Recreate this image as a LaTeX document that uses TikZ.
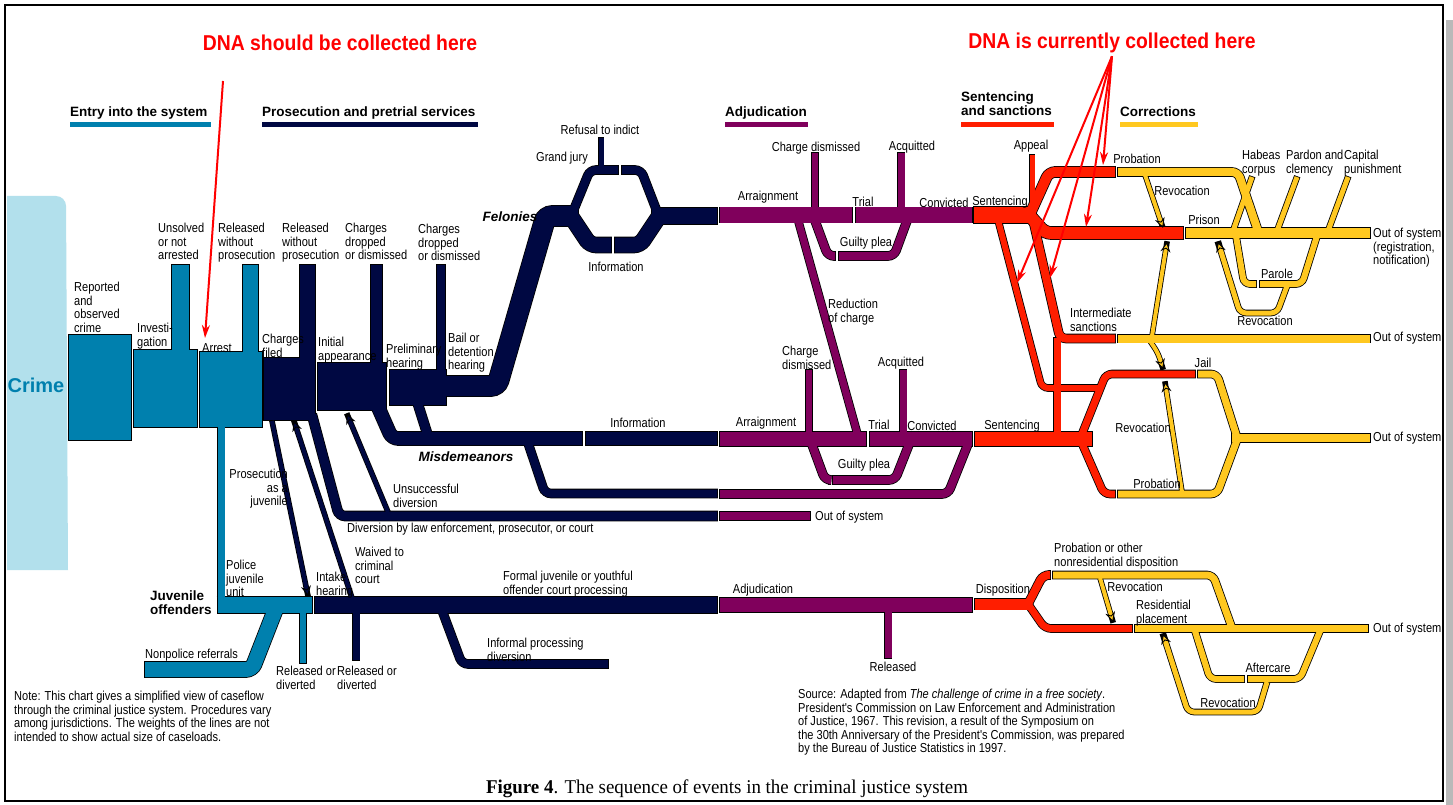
\documentclass[tikz,border=0pt]{standalone}
\usepackage{fontspec}
\setmainfont{Liberation Sans}
\newfontfamily\narrowsans{Liberation Sans}[FakeStretch=0.85]
\newfontfamily\dnasans{Liberation Sans}[FakeStretch=0.9]
\newfontfamily\captionserif{Liberation Serif}[FakeStretch=0.97]
\usetikzlibrary{arrows.meta}

\definecolor{entryblue}{RGB}{0,128,174}
\definecolor{prosnavy}{RGB}{0,8,66}
\definecolor{adjpurple}{RGB}{128,0,92}
\definecolor{sentred}{RGB}{255,30,0}
\definecolor{corryellow}{RGB}{255,200,32}
\definecolor{crimeblue}{RGB}{178,224,236}
\definecolor{dnared}{RGB}{255,0,0}

\pgfdeclarelayer{paper}
\pgfdeclarelayer{outline}
\pgfsetlayers{paper,outline,main}

\tikzset{
  lbl/.style={font=\narrowsans\fontsize{13}{13.5}\selectfont, inner sep=0pt, align=left},
  hdr/.style={font=\bfseries\fontsize{13.5}{14}\selectfont, inner sep=0pt, align=left},
  trackname/.style={font=\bfseries\itshape\fontsize{13.5}{14}\selectfont, inner sep=0pt},
  dnatext/.style={font=\dnasans\bfseries\fontsize{21.5}{23}\selectfont, text=dnared, inner sep=0pt},
  dnaarrow/.style={dnared, line width=2pt, -{Stealth[length=13pt, width=8pt]}},
  hdrbar/.style={line width=5pt},
  flowedge/.style={black, rounded corners=6pt, shorten <=-0.8pt, shorten >=-0.8pt},
  flowfill/.style={rounded corners=6pt},
  tipb/.style={-{Stealth[length=10pt, width=10pt, line width=0.9pt, color=black, fill=#1]}},
}

% #1 extra options, #2 colour, #3 width, #4 path
\newcommand{\flow}[4][]{%
  \begin{pgfonlayer}{outline}
    \draw[flowedge, line width=#3pt+1.6pt] #4;
  \end{pgfonlayer}
  \draw[flowfill, draw=#2, line width=#3pt, #1] #4;}

\begin{document}
\begin{tikzpicture}[x=1pt, y=-1pt]
\useasboundingbox (0,0) rectangle (1453,805);
\begin{pgfonlayer}{paper}
  \fill[white] (0,0) rectangle (1453,805);
\end{pgfonlayer}
\fill[gray!55] (1446,20) rectangle (1453,805);
\draw[line width=2pt] (5,5) rectangle (1443,801);

\fill[crimeblue] (7,196) [rounded corners=10pt] -- (66,196) [sharp corners] -- (68,570) -- (7,570) -- cycle;
\node[font=\bfseries\fontsize{20}{22}\selectfont, text=entryblue, inner sep=0pt] (crime) at (36,385) {Crime};

\node[hdr, anchor=base west] (entry) at (70,117) {Entry into the system};
\node[hdr, anchor=base west] (prosecution) at (262,117) {Prosecution and pretrial services};
\node[hdr, anchor=base west] (adjudication) at (725,117) {Adjudication};
\node[hdr, anchor=north west] (sentencing) at (961,92) {Sentencing\\and sanctions};
\node[hdr, anchor=base west] (corrections) at (1120,117) {Corrections};
\draw[hdrbar, entryblue] (70,125) -- (211,125);
\draw[hdrbar, prosnavy] (262,125) -- (478,125);
\draw[hdrbar, adjpurple] (725,125) -- (808,125);
\draw[hdrbar, sentred] (961,125) -- (1054,125);
\draw[hdrbar, corryellow] (1120,125) -- (1198,125);

\flow{entryblue}{105}{(69,387.5) -- (131,387.5)}
\flow{entryblue}{17}{(180.5,380) -- (180.5,265)}
\flow{entryblue}{77}{(134,388.5) -- (197,388.5)}
\flow{entryblue}{15}{(250.5,380) -- (250.5,265)}
\flow{entryblue}{75}{(200,389.5) -- (262,389.5)}
\flow{entryblue}{7}{(221,410) -- (221,605)}
\flow{entryblue}{16}{(217.5,605) -- (312,605)}
\flow{entryblue}{15}{(145,669.5) -- (252,669.5) -- (276,608)}
\flow{entryblue}{6}{(303,605) -- (303,663)}

\flow{prosnavy}{15}{(307.5,380) -- (307.5,265)}
\flow{prosnavy}{62}{(264,389) -- (315,389)}
\flow{prosnavy}{11}{(376.5,380) -- (376.5,265)}
\flow{prosnavy}{47}{(318,386.5) -- (386,386.5)}
\flow{prosnavy}{8}{(441,380) -- (441,265)}
\flow{prosnavy}{35}{(390,387.5) -- (446,387.5)}
\flow{prosnavy}{20}{(440,386) -- (497,386) -- (546,216) -- (578,216)}
\flow{prosnavy}{8}{(572,214) -- (590,170) -- (618,170)}
\flow{prosnavy}{8}{(622,170) -- (641,170) -- (658,214)}
\flow{prosnavy}{15}{(572,218) -- (590,245) -- (611,245)}
\flow{prosnavy}{15}{(615,245) -- (640,245) -- (658,218)}
\flow{prosnavy}{5}{(601,138) -- (601,170)}
\flow{prosnavy}{16}{(652,216) -- (717,216)}
\flow{prosnavy}{13}{(375,400) -- (392,438.5) -- (582,438.5)}
\flow{prosnavy}{9}{(416,398) -- (428,436)}
\flow{prosnavy}{13}{(586,438.5) -- (717,438.5)}
\flow{prosnavy}{8}{(527,440) -- (545,493.5) -- (717,493.5)}
\flow{prosnavy}{9}{(312,415) -- (339,516) -- (717,516)}
\flow[tipb=prosnavy]{prosnavy}{4}{(388,512) -- (347,414)}
\flow[tipb=prosnavy]{prosnavy}{4}{(272,421) -- (308,596)}
\flow[tipb=prosnavy]{prosnavy}{4}{(352,598) -- (294,421)}
\flow{prosnavy}{16}{(315,605) -- (717,605)}
\flow{prosnavy}{7}{(356,605) -- (356,660)}
\flow{prosnavy}{8}{(440,605) -- (462,664) -- (608,664)}

\flow{adjpurple}{15}{(720,215) -- (852,215)}
\flow{adjpurple}{15}{(856,215) -- (972,215)}
\flow{adjpurple}{6}{(815,215) -- (815,153)}
\flow{adjpurple}{7}{(901,215) -- (901,153)}
\flow{adjpurple}{8}{(814,218) -- (828,256) -- (835,256)}
\flow{adjpurple}{8}{(839,256) -- (894,256) -- (908,218)}
\flow{adjpurple}{7}{(798,220) -- (858,436)}
\flow{adjpurple}{14}{(720,439) -- (866,439)}
\flow{adjpurple}{14}{(870,439) -- (972,439)}
\flow{adjpurple}{6}{(809,439) -- (809,370)}
\flow{adjpurple}{7}{(903,439) -- (903,370)}
\flow{adjpurple}{8}{(811,442) -- (825,480) -- (829,480)}
\flow{adjpurple}{8}{(833,480) -- (895,480) -- (910,442)}
\flow{adjpurple}{8}{(720,494) -- (948,494) -- (968,444)}
\flow{adjpurple}{8}{(720,516) -- (810,516)}
\flow{adjpurple}{14}{(720,605) -- (972,605)}
\flow{adjpurple}{7}{(888,605) -- (888,658)}

\flow{sentred}{16}{(974,215) -- (1036,215)}
\flow{sentred}{5}{(1032,215) -- (1032,155)}
\flow{sentred}{10}{(1030,214) -- (1049,172) -- (1115,172)}
\flow{sentred}{12}{(1030,216) -- (1045,233) -- (1183,233)}
\flow{sentred}{8}{(1033,220) -- (1060,338.5) -- (1115,338.5)}
\flow{sentred}{6}{(998,220) -- (1042,388) -- (1102,388)}
\flow{sentred}{7}{(1057,338) -- (1057,439)}
\flow{sentred}{14}{(975,439) -- (1092,439)}
\flow{sentred}{7}{(1080,439) -- (1106,374) -- (1195,374)}
\flow{sentred}{7}{(1080,439) -- (1104,494) -- (1115,494)}
\flow{sentred}{11}{(975,604) -- (1032,604)}
\flow{sentred}{8}{(1028,604) -- (1043,575) -- (1050,575)}
\flow{sentred}{7}{(1028,604) -- (1045,628.5) -- (1132,628.5)}

\flow{corryellow}{8}{(1118,172) -- (1238,172) -- (1258,231)}
\flow{corryellow}{10}{(1186,233) -- (1370,233)}
\flow{corryellow}{5}{(1233,231) -- (1252,177)}
\flow{corryellow}{5}{(1277,231) -- (1297,177)}
\flow{corryellow}{5}{(1328,231) -- (1348,177)}
\flow{corryellow}{6}{(1236,236) -- (1244,284) -- (1256,284)}
\flow{corryellow}{6}{(1260,284) -- (1302,284) -- (1317,236)}
\flow[tipb=corryellow]{corryellow}{5}{(1287,286) -- (1277,313) -- (1240,313) -- (1218,242)}
\flow[tipb=corryellow]{corryellow}{4}{(1145,175) -- (1163,228)}
\flow{corryellow}{8}{(1118,338.5) -- (1370,338.5)}
\flow[tipb=corryellow]{corryellow}{4}{(1152,336) -- (1167,242)}
\flow[tipb=corryellow]{corryellow}{4}{(1150,341) -- (1158,353) -- (1163,369)}
\flow{corryellow}{7}{(1198,374) -- (1217,374) -- (1237,437)}
\flow{corryellow}{7}{(1118,494) -- (1217,494) -- (1237,440)}
\flow{corryellow}{8}{(1232,438) -- (1370,438)}
\flow[tipb=corryellow]{corryellow}{4}{(1182,492) -- (1165,382)}
\flow{corryellow}{7}{(1053,575) -- (1213,575) -- (1232,628)}
\flow{corryellow}{7}{(1135,628.5) -- (1368,628.5)}
\flow[tipb=corryellow]{corryellow}{4}{(1100,578) -- (1113,622)}
\flow{corryellow}{6}{(1195,631) -- (1210,679) -- (1244,679)}
\flow{corryellow}{6}{(1248,679) -- (1300,679) -- (1320,631)}
\flow[tipb=corryellow]{corryellow}{5}{(1267,682) -- (1258,712) -- (1188,712) -- (1163,634)}

\node[lbl, anchor=north west] (reported) at (74,282) {Reported\\and\\observed\\crime};
\node[lbl, anchor=north west] (investigation) at (137,323) {Investi-\\gation};
\node[lbl, anchor=north west] (unsolved) at (158,223) {Unsolved\\or not\\arrested};
\node[lbl, anchor=north west] (releasedA) at (218,223) {Released\\without\\prosecution};
\node[lbl, anchor=north west] (arrest) at (202,343) {Arrest};
\node[lbl, anchor=north west] (chargesfiled) at (262,334) {Charges\\filed};
\node[lbl, anchor=north west] (releasedB) at (282,223) {Released\\without\\prosecution};
\node[lbl, anchor=north west] (initial) at (318,337) {Initial\\appearance};
\node[lbl, anchor=north west] (droppedA) at (345,223) {Charges\\dropped\\or dismissed};
\node[lbl, anchor=north west] (prelim) at (386,344) {Preliminary\\hearing};
\node[lbl, anchor=north west] (droppedB) at (418,224) {Charges\\dropped\\or dismissed};
\node[lbl, anchor=north west] (bail) at (448,333) {Bail or\\detention\\hearing};
\node[trackname] (felonies) at (510,217) {Felonies};
\node[lbl] (grandjury) at (562,158) {Grand jury};
\node[lbl] (refusal) at (600,130) {Refusal to indict};
\node[lbl] (infoA) at (616,267) {Information};
\node[lbl] (infoB) at (638,423) {Information};
\node[trackname] (misdemeanors) at (466,457) {Misdemeanors};
\node[lbl, anchor=north west] (unsuccessful) at (393,484) {Unsuccessful\\diversion};
\node[lbl, anchor=north west] (diversion) at (347,523) {Diversion by law enforcement, prosecutor, or court};
\node[lbl, anchor=north east, align=right] (asjuvenile) at (288,469) {Prosecution\\as a\\juvenile};
\node[lbl, anchor=north west] (policeunit) at (226,560) {Police\\juvenile\\unit};
\node[hdr, anchor=north west] (juvenile) at (150,591) {Juvenile\\offenders};
\node[lbl, anchor=north west] (intake) at (316,572) {Intake\\hearing};
\node[lbl, anchor=north west] (waived) at (355,547) {Waived to\\criminal\\court};
\node[lbl, anchor=north west] (formal) at (503,571) {Formal juvenile or youthful\\offender court processing};
\node[lbl, anchor=north west] (nonpolice) at (145,649) {Nonpolice referrals};
\node[lbl, anchor=north west] (releasedC) at (276,666) {Released or\\diverted};
\node[lbl, anchor=north west] (releasedD) at (337,666) {Released or\\diverted};
\node[lbl, anchor=north west] (informal) at (487,638) {Informal processing\\diversion};

\node[lbl] (arraignA) at (768,197) {Arraignment};
\node[lbl] (dismissedA) at (816,148) {Charge dismissed};
\node[lbl] (trialA) at (863,202) {Trial};
\node[lbl] (acquittedA) at (912,147) {Acquitted};
\node[lbl] (convictedA) at (944,203) {Convicted};
\node[lbl] (pleaA) at (866,243) {Guilty plea};
\node[lbl, anchor=north west] (reduction) at (828,299) {Reduction\\of charge};
\node[lbl, anchor=north west] (dismissedB) at (782,346) {Charge\\dismissed};
\node[lbl] (acquittedB) at (901,363) {Acquitted};
\node[lbl] (arraignB) at (766,423) {Arraignment};
\node[lbl] (trialB) at (879,425) {Trial};
\node[lbl] (convictedB) at (932,426) {Convicted};
\node[lbl] (pleaB) at (864,465) {Guilty plea};
\node[lbl, anchor=north west] (outadj) at (815,511) {Out of system};
\node[lbl] (adjjuv) at (763,590) {Adjudication};
\node[lbl] (releasedE) at (893,667) {Released};

\node[lbl] (sentA) at (1000,202) {Sentencing};
\node[lbl] (appeal) at (1031,146) {Appeal};
\node[lbl] (probA) at (1137,159) {Probation};
\node[lbl] (revocA) at (1182,191) {Revocation};
\node[lbl] (prison) at (1204,220) {Prison};
\node[lbl, anchor=north west] (habeas) at (1242,150) {Habeas\\corpus};
\node[lbl, anchor=north west] (pardon) at (1286,150) {Pardon and\\clemency};
\node[lbl, anchor=north west] (capital) at (1344,150) {Capital\\punishment};
\node[lbl, anchor=north west] (outprison) at (1373,228) {Out of system\\(registration,\\notification)};
\node[lbl] (parole) at (1277,274) {Parole};
\node[lbl] (revocB) at (1265,321) {Revocation};
\node[lbl, anchor=north west] (intermediate) at (1070,308) {Intermediate\\sanctions};
\node[lbl, anchor=north west] (outinter) at (1373,332) {Out of system};
\node[lbl] (jail) at (1203,363) {Jail};
\node[lbl] (revocC) at (1143,428) {Revocation};
\node[lbl] (probB) at (1157,484) {Probation};
\node[lbl, anchor=north west] (outjail) at (1373,432) {Out of system};
\node[lbl] (sentB) at (1012,426) {Sentencing};
\node[lbl] (disposition) at (1003,590) {Disposition};
\node[lbl, anchor=north west] (probjuv) at (1054,543) {Probation or other\\nonresidential disposition};
\node[lbl] (revocD) at (1135,587) {Revocation};
\node[lbl, anchor=north west] (residential) at (1136,600) {Residential\\placement};
\node[lbl, anchor=north west] (outjuv) at (1373,623) {Out of system};
\node[lbl] (aftercare) at (1268,668) {Aftercare};
\node[lbl] (revocE) at (1228,703) {Revocation};

\node[lbl, anchor=north west] (note) at (14,691) {Note: This chart gives a simplified view of caseflow\\through the criminal justice system. Procedures vary\\among jurisdictions. The weights of the lines are not\\intended to show actual size of caseloads.};
\node[lbl, anchor=north west] (source) at (798,689) {Source: Adapted from \textit{The challenge of crime in a free society}.\\President's Commission on Law Enforcement and Administration\\of Justice, 1967. This revision, a result of the Symposium on\\the 30th Anniversary of the President's Commission, was prepared\\by the Bureau of Justice Statistics in 1997.};
\node[font=\captionserif\fontsize{19.5}{20}\selectfont, inner sep=0pt] (caption) at (727,789) {\textbf{Figure 4}. The sequence of events in the criminal justice system};

\node[dnatext] (dnashould) at (340,43) {DNA should be collected here};
\node[dnatext] (dnacurrent) at (1112,43) {DNA is currently collected here};
\coordinate (shouldfrom) at (223,81);
\coordinate (arrestpt) at (205,338);
\coordinate (probpt) at (1103,165);
\coordinate (prisonpt) at (1086,227);
\coordinate (outerpt) at (1017,283);
\coordinate (innerpt) at (1050,278);
\draw[dnaarrow] (shouldfrom) -- (arrestpt);
\foreach \t in {probpt, prisonpt, outerpt, innerpt}
  \draw[dnaarrow] ([yshift=-3pt]dnacurrent.south) -- (\t);
\end{tikzpicture}
\end{document}
